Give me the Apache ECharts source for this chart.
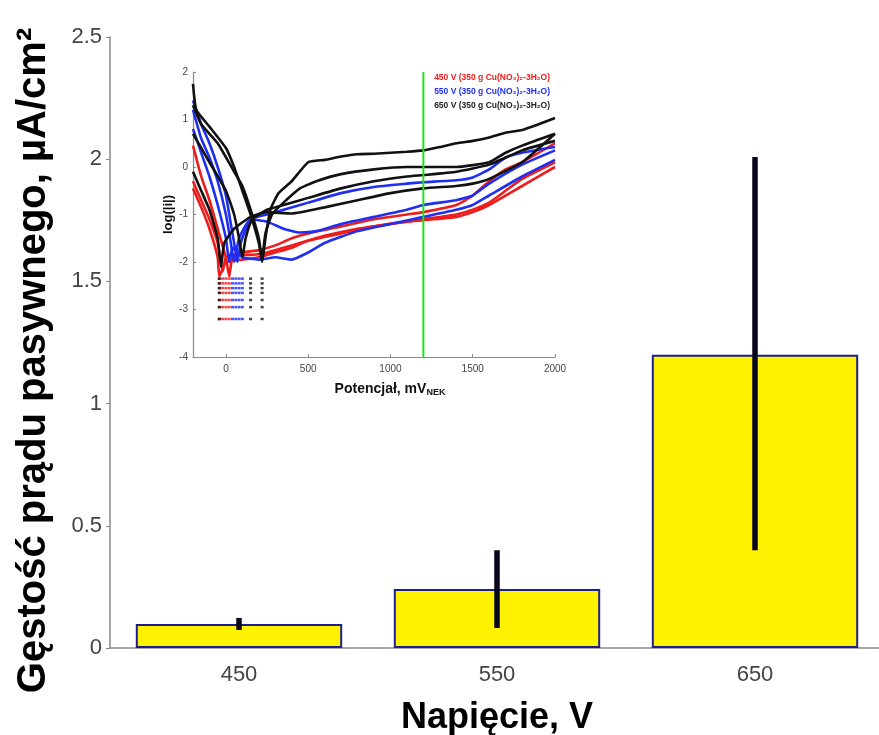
<!DOCTYPE html>
<html>
<head>
<meta charset="utf-8">
<script src="https://cdn.jsdelivr.net/npm/echarts@6/dist/echarts.min.js"></script>
<style>html,body{margin:0;padding:0;background:#fff;}#c{width:879px;height:735px;}</style>
</head>
<body>
<div id="c"></div>
<script>
// ---- main bar chart data ----
const categories = ['450', '550', '650'];
const barValues = [0.098, 0.241, 1.2];
const errLow = [0.074, 0.082, 0.40];
const errHigh = [0.123, 0.40, 2.009];

// ---- inset polarization curves (x: mV, y: log|i|) ----
const red1 = [[-200,0.45],[-150,-0.2],[-100,-0.7],[-50,-1.3],[0,-1.9],[20,-2.3],[40,-1.9],[100,-1.8],[200,-1.75],[300,-1.65],[400,-1.5],[500,-1.4],[700,-1.25],[900,-1.1],[1100,-1.0],[1200,-0.95],[1400,-0.8],[1500,-0.6],[1600,-0.3],[1700,-0.05],[1800,0.1],[2000,0.5]];
const red2 = [[-200,-0.3],[-150,-0.7],[-100,-1.1],[-50,-1.6],[-20,-2.2],[0,-1.9],[50,-1.85],[150,-1.85],[250,-1.8],[350,-1.7],[450,-1.6],[600,-1.45],[800,-1.3],[1000,-1.2],[1200,-1.1],[1400,-1.0],[1500,-0.9],[1600,-0.75],[1700,-0.5],[1800,-0.25],[2000,0.1]];
const red3 = [[-200,-0.45],[-150,-0.85],[-100,-1.3],[-50,-1.9],[-40,-2.3],[0,-2.0],[100,-1.95],[200,-1.9],[300,-1.8],[400,-1.7],[500,-1.55],[700,-1.4],[900,-1.25],[1100,-1.15],[1200,-1.12],[1400,-1.05],[1500,-0.95],[1600,-0.8],[1800,-0.4],[2000,0.0]];
const blue1 = [[-200,1.4],[-150,0.9],[-100,0.5],[-50,0],[0,-0.6],[30,-1.2],[50,-1.6],[70,-2.0],[90,-1.6],[150,-1.1],[250,-1.0],[350,-0.9],[500,-0.75],[700,-0.55],[900,-0.42],[1100,-0.35],[1200,-0.32],[1400,-0.28],[1500,-0.22],[1600,-0.05],[1700,0.2],[1800,0.3],[2000,0.42]];
const blue2 = [[-200,1.2],[-150,0.6],[-100,0.2],[-50,-0.3],[0,-1.0],[30,-1.6],[50,-2.0],[80,-1.5],[150,-1.1],[250,-1.15],[350,-1.3],[450,-1.38],[550,-1.35],[700,-1.2],[900,-1.05],[1100,-0.9],[1200,-0.8],[1400,-0.7],[1500,-0.6],[1600,-0.35],[1800,0.05],[2000,0.35]];
const blue3 = [[-200,0.8],[-150,0.3],[-100,-0.2],[-50,-0.8],[0,-1.5],[20,-2.0],[40,-1.7],[100,-1.9],[200,-1.95],[300,-1.9],[400,-1.95],[500,-1.8],[600,-1.6],[800,-1.35],[1000,-1.2],[1200,-1.05],[1400,-0.9],[1500,-0.8],[1600,-0.6],[1800,-0.2],[2000,0.15]];
const black1 = [[-200,1.75],[-180,1.2],[-100,0.85],[0,0.4],[50,0],[100,-0.5],[150,-1.0],[200,-1.6],[220,-2.0],[240,-1.5],[270,-0.9],[320,-0.55],[400,-0.3],[500,0.1],[600,0.15],[700,0.22],[800,0.27],[900,0.28],[1000,0.3],[1100,0.32],[1200,0.35],[1300,0.42],[1400,0.5],[1500,0.55],[1600,0.62],[1700,0.72],[1800,0.78],[1900,0.9],[2000,1.03]];
const black2 = [[-200,1.3],[-150,0.9],[-50,0.5],[50,-0.1],[100,-0.4],[150,-0.9],[200,-1.5],[220,-1.95],[240,-1.4],[280,-1.0],[350,-0.75],[450,-0.45],[550,-0.3],[700,-0.15],[900,-0.05],[1100,0],[1200,0],[1400,0],[1600,0.1],[1700,0.3],[1800,0.45],[2000,0.7]];
const black3 = [[-200,0.7],[-150,0.4],[-100,0.1],[0,-0.5],[50,-1.0],[80,-1.5],[100,-1.9],[120,-1.5],[160,-1.1],[250,-0.9],[350,-0.8],[500,-0.65],[700,-0.45],[900,-0.3],[1100,-0.2],[1200,-0.17],[1400,-0.1],[1600,0.05],[1800,0.35],[2000,0.55]];
const black4 = [[-200,-0.1],[-150,-0.5],[-100,-0.9],[-50,-1.5],[-30,-2.1],[-10,-1.6],[50,-1.3],[150,-1.05],[250,-0.95],[400,-0.98],[600,-0.85],[800,-0.7],[1000,-0.55],[1200,-0.45],[1400,-0.4],[1500,-0.35],[1600,-0.25],[1800,0.1],[2000,0.7]];
const dropRows = [-2.35, -2.45, -2.55, -2.65, -2.8, -2.95, -3.2];
const redDropX = [-40, -20, 0, 20];
const blueDropX = [40, 60, 80, 100];
const blackDropX = [-40, 150, 220];
const insetXTicks = [0, 500, 1000, 1500, 2000];
const markerLine = 1200;
const legendNames = ['450 V (350 g Cu(NO₃)₂-3H₂O)', '550 V (350 g Cu(NO₃)₂-3H₂O)', '650 V (350 g Cu(NO₃)₂-3H₂O)'];

const RED = '#ee1c1c', BLUE = '#1f2ff0', BLACK = '#111111';
function dots(xs) { const out = []; xs.forEach(x => dropRows.forEach(y => out.push([x, y]))); return out; }
function curve(name, data, color) {
  return { name, type: 'line', xAxisIndex: 1, yAxisIndex: 1, data, smooth: 0.15, showSymbol: false, symbol: 'none',
    lineStyle: { color, width: 2.6 }, itemStyle: { color }, silent: true, z: 5 };
}
function drop(name, xs, color) {
  return { name, type: 'scatter', xAxisIndex: 1, yAxisIndex: 1, data: dots(xs), symbol: 'rect', symbolSize: [3, 2.5],
    itemStyle: { color }, silent: true, z: 4 };
}

const chart = echarts.init(document.getElementById('c'), null, { renderer: 'canvas' });
const option = {
  animation: false,
  backgroundColor: '#fff',
  textStyle: { fontFamily: 'Liberation Sans, Arial, sans-serif' },
  grid: [
    { left: 110, right: -5, top: 37, bottom: 87, outerBoundsMode: 'none', containLabel: false },
    { left: 193, right: 324, top: 72, bottom: 378, outerBoundsMode: 'none', containLabel: false }
  ],
  legend: {
    orient: 'vertical', right: 324, top: 68, itemGap: 5, icon: 'none', itemWidth: 0, itemHeight: 8,
    selectedMode: false,
    data: [
      { name: legendNames[0], textStyle: { color: RED } },
      { name: legendNames[1], textStyle: { color: BLUE } },
      { name: legendNames[2], textStyle: { color: '#222' } }
    ],
    textStyle: { fontSize: 8.5, fontWeight: 'bold', padding: 0 }
  },
  xAxis: [
    {
      type: 'category', gridIndex: 0, data: categories, boundaryGap: true,
      axisLine: { lineStyle: { color: '#888', width: 1.5 } }, axisTick: { show: false },
      axisLabel: { color: '#444', fontSize: 22, margin: 16 },
      name: 'Napięcie, V', nameLocation: 'middle', nameGap: 52,
      nameTextStyle: { color: '#000', fontSize: 36, fontWeight: 'bold' }
    },
    {
      type: 'value', gridIndex: 1, min: -200, max: 2000,
      axisLine: { show: true, onZero: false, lineStyle: { color: '#888', width: 1.2 } },
      axisTick: { show: true, inside: true, length: 3, customValues: insetXTicks, lineStyle: { color: '#888' } },
      axisLabel: { color: '#444', fontSize: 10, margin: 7, customValues: insetXTicks, formatter: v => String(v) },
      splitLine: { show: false },
      name: '{a|Potencjał, mV}{b|NEK}', nameLocation: 'middle', nameGap: 25,
      nameTextStyle: { rich: { a: { fontSize: 14, fontWeight: 'bold', color: '#111' }, b: { fontSize: 9, fontWeight: 'bold', color: '#111', verticalAlign: 'bottom', padding: [6, 0, 0, 0] } }, padding: [0, 0, 0, 32] }
    }
  ],
  yAxis: [
    {
      type: 'value', gridIndex: 0, min: 0, max: 2.5, interval: 0.5,
      axisLine: { show: true, lineStyle: { color: '#888', width: 1.5 } },
      axisTick: { show: true, length: 4, lineStyle: { color: '#888' } },
      axisLabel: { color: '#444', fontSize: 22, margin: 8 },
      splitLine: { show: false },
      name: 'Gęstość prądu pasywnego, µA/cm²', nameLocation: 'middle', nameGap: 56,
      nameTextStyle: { color: '#000', fontSize: 40, fontWeight: 'bold', padding: [0, 36, 0, 0] }
    },
    {
      type: 'value', gridIndex: 1, min: -4, max: 2, interval: 1,
      axisLine: { show: true, onZero: false, lineStyle: { color: '#888', width: 1.2 } },
      axisTick: { show: true, inside: true, length: 3, lineStyle: { color: '#888' } },
      axisLabel: { color: '#444', fontSize: 10, margin: 5 },
      splitLine: { show: false },
      name: 'log(|i|)', nameLocation: 'middle', nameGap: 15,
      nameTextStyle: { color: '#111', fontSize: 13, fontWeight: 'bold' }
    }
  ],
  series: [
    {
      type: 'bar', xAxisIndex: 0, yAxisIndex: 0, data: barValues, barWidth: '80%',
      itemStyle: { color: '#fff200', borderColor: '#1e1e8a', borderWidth: 2 }, z: 2, silent: true
    },
    {
      type: 'custom', xAxisIndex: 0, yAxisIndex: 0, z: 3, silent: true,
      data: categories.map((c, i) => [i, errLow[i], errHigh[i]]),
      renderItem: function (params, api) {
        const p1 = api.coord([api.value(0), api.value(1)]);
        const p2 = api.coord([api.value(0), api.value(2)]);
        return { type: 'line', shape: { x1: p1[0], y1: p1[1], x2: p2[0], y2: p2[1] },
          style: { stroke: '#06061c', lineWidth: 5.5 } };
      }
    },
    drop(legendNames[0], redDropX, RED),
    drop(legendNames[1], blueDropX, BLUE),
    drop(legendNames[2], blackDropX, BLACK),
    curve(legendNames[0], red1, RED),
    curve(legendNames[0], red2, RED),
    curve(legendNames[0], red3, RED),
    curve(legendNames[1], blue1, BLUE),
    curve(legendNames[1], blue2, BLUE),
    curve(legendNames[1], blue3, BLUE),
    curve(legendNames[2], black1, BLACK),
    curve(legendNames[2], black2, BLACK),
    curve(legendNames[2], black3, BLACK),
    curve(legendNames[2], black4, BLACK),
    {
      type: 'line', xAxisIndex: 1, yAxisIndex: 1, data: [[markerLine, -4], [markerLine, 2]], showSymbol: false,
      lineStyle: { color: '#1ee01e', width: 2 }, z: 6, silent: true
    }
  ]
};
chart.setOption(option);
</script>
</body>
</html>
